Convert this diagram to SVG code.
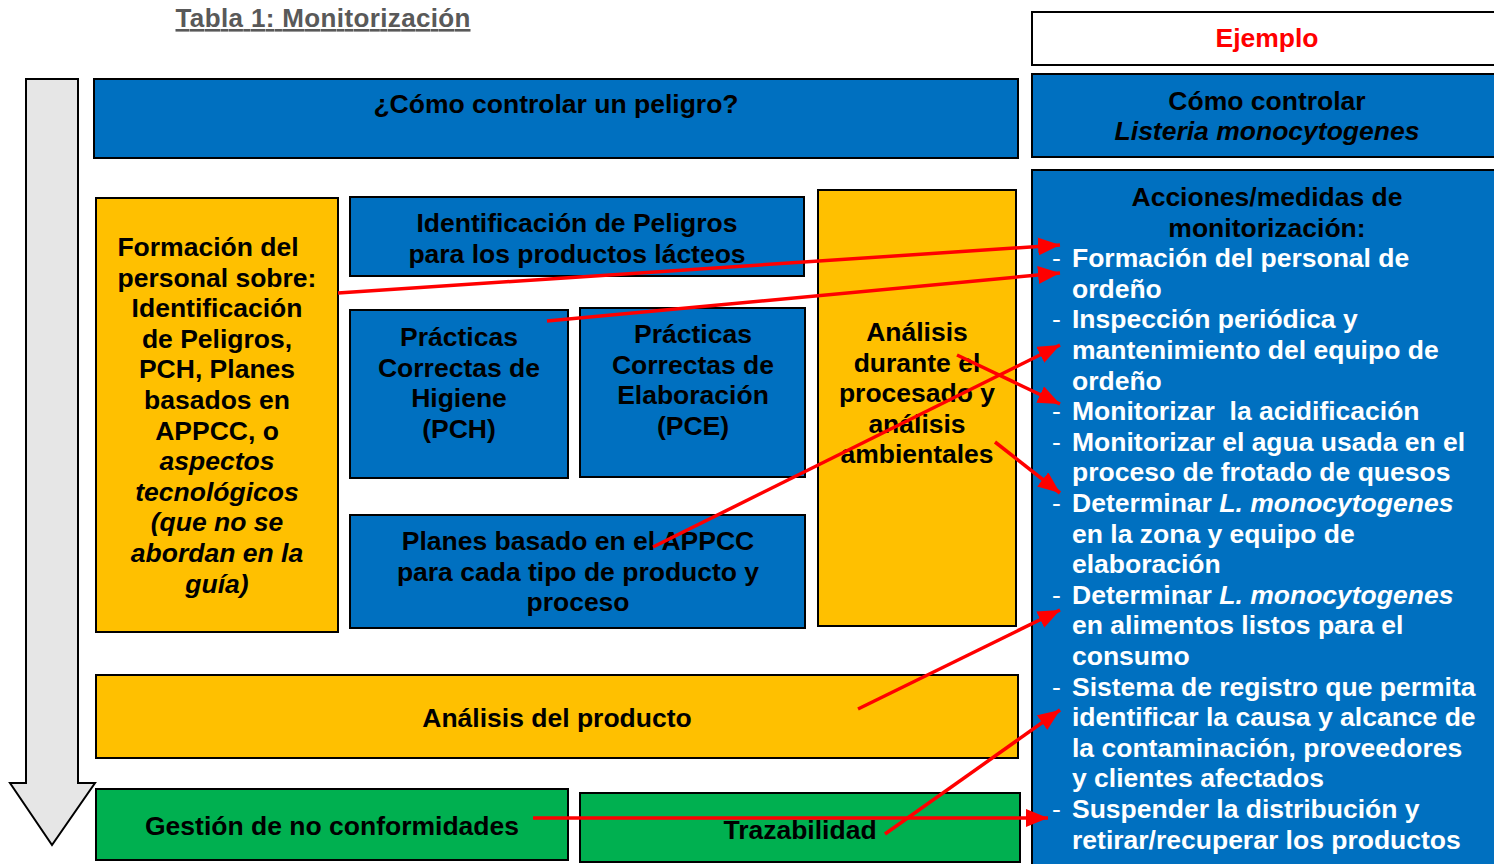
<svg xmlns="http://www.w3.org/2000/svg" width="1494" height="864" viewBox="0 0 1494 864">
<defs>
<style>
.t{font-family:"Liberation Sans",Arial,sans-serif;font-weight:bold;font-size:26.5px;fill:#000;text-anchor:middle}
.w{font-family:"Liberation Sans",Arial,sans-serif;font-weight:bold;font-size:26.5px;fill:#fff}
.d{font-family:"Liberation Sans",Arial,sans-serif;font-weight:normal;font-size:26.5px;fill:#fff}
.i{font-style:italic}
.blue{fill:#0070C0;stroke:#000;stroke-width:2}
.yel{fill:#FFC000;stroke:#000;stroke-width:2}
.grn{fill:#00B050;stroke:#000;stroke-width:2}
.con line{stroke:#FF0000;stroke-width:3.5;marker-end:url(#ah)}
</style>
<marker id="ah" markerUnits="userSpaceOnUse" markerWidth="24" markerHeight="20" refX="22" refY="9" orient="auto">
<path d="M0,0 L22,9 L0,18 Z" fill="#FF0000"/>
</marker>
</defs>
<rect width="1494" height="864" fill="#fff"/>
<text x="323" y="27" font-family="Liberation Sans, Arial, sans-serif" font-weight="bold" font-size="26" fill="#595959" text-anchor="middle" text-decoration="underline" textLength="295">Tabla 1: Monitorización</text>

<g id="flecha-proceso">
<path d="M26,79 L78,79 L78,783 L95,783 L52,845 L10,783 L26,783 Z" fill="#E6E6E6" stroke="#000" stroke-width="2"/>
</g>

<g id="ejemplo">
<rect x="1032" y="12" width="470" height="53" fill="#fff" stroke="#000" stroke-width="2"/>
<text class="t" x="1267" y="47" style="fill:#FF0000">Ejemplo</text>
</g>

<g id="como-controlar-listeria">
<rect class="blue" x="1032" y="74" width="470" height="83"/>
<text class="t" x="1267" y="110">Cómo controlar</text>
<text class="t i" x="1267" y="140">Listeria monocytogenes</text>
</g>

<g id="acciones">
<rect class="blue" x="1032" y="170" width="470" height="700"/>
<text class="t" x="1267" y="206">Acciones/medidas de</text>
<text class="t" x="1267" y="236.6">monitorización:</text>
<g>
<text class="d" x="1052" y="267.2">-</text><text class="w" x="1072" y="267.2">Formación del personal de</text>
<text class="w" x="1072" y="297.8">ordeño</text>
<text class="d" x="1052" y="328.4">-</text><text class="w" x="1072" y="328.4">Inspección periódica y</text>
<text class="w" x="1072" y="359">mantenimiento del equipo de</text>
<text class="w" x="1072" y="389.6">ordeño</text>
<text class="d" x="1052" y="420.2">-</text><text class="w" x="1072" y="420.2" xml:space="preserve">Monitorizar  la acidificación</text>
<text class="d" x="1052" y="450.8">-</text><text class="w" x="1072" y="450.8">Monitorizar el agua usada en el</text>
<text class="w" x="1072" y="481.4">proceso de frotado de quesos</text>
<text class="d" x="1052" y="512">-</text><text class="w" x="1072" y="512">Determinar <tspan class="i">L. monocytogenes</tspan></text>
<text class="w" x="1072" y="542.6">en la zona y equipo de</text>
<text class="w" x="1072" y="573.2">elaboración</text>
<text class="d" x="1052" y="603.8">-</text><text class="w" x="1072" y="603.8">Determinar <tspan class="i">L. monocytogenes</tspan></text>
<text class="w" x="1072" y="634.4">en alimentos listos para el</text>
<text class="w" x="1072" y="665">consumo</text>
<text class="d" x="1052" y="695.6">-</text><text class="w" x="1072" y="695.6">Sistema de registro que permita</text>
<text class="w" x="1072" y="726.2">identificar la causa y alcance de</text>
<text class="w" x="1072" y="756.8">la contaminación, proveedores</text>
<text class="w" x="1072" y="787.4">y clientes afectados</text>
<text class="d" x="1052" y="818">-</text><text class="w" x="1072" y="818">Suspender la distribución y</text>
<text class="w" x="1072" y="848.6">retirar/recuperar los productos</text>
</g>
</g>

<g id="como-controlar-peligro">
<rect class="blue" x="94" y="79" width="924" height="79"/>
<text class="t" x="556" y="113">¿Cómo controlar un peligro?</text>
</g>

<g id="formacion">
<rect class="yel" x="96" y="198" width="242" height="434"/>
<text class="t" x="208" y="256">Formación del</text>
<text class="t" x="217" y="286.6">personal sobre:</text>
<text class="t" x="217" y="317.2">Identificación</text>
<text class="t" x="217" y="347.8">de Peligros,</text>
<text class="t" x="217" y="378.4">PCH, Planes</text>
<text class="t" x="217" y="409">basados en</text>
<text class="t" x="217" y="439.6">APPCC, o</text>
<text class="t i" x="217" y="470.2">aspectos</text>
<text class="t i" x="217" y="500.8">tecnológicos</text>
<text class="t i" x="217" y="531.4">(que no se</text>
<text class="t i" x="217" y="562">abordan en la</text>
<text class="t i" x="217" y="592.6">guía)</text>
</g>

<g id="identificacion-peligros">
<rect class="blue" x="350" y="197" width="454" height="79"/>
<text class="t" x="577" y="232">Identificación de Peligros</text>
<text class="t" x="577" y="262.6">para los productos lácteos</text>
</g>

<g id="pch">
<rect class="blue" x="350" y="310" width="218" height="168"/>
<text class="t" x="459" y="346">Prácticas</text>
<text class="t" x="459" y="376.6">Correctas de</text>
<text class="t" x="459" y="407.2">Higiene</text>
<text class="t" x="459" y="437.8">(PCH)</text>
</g>

<g id="pce">
<rect class="blue" x="580" y="308" width="225" height="169"/>
<text class="t" x="693" y="343">Prácticas</text>
<text class="t" x="693" y="373.6">Correctas de</text>
<text class="t" x="693" y="404.2">Elaboración</text>
<text class="t" x="693" y="434.8">(PCE)</text>
</g>

<g id="planes-appcc">
<rect class="blue" x="350" y="515" width="455" height="113"/>
<text class="t" x="578" y="550">Planes basado en el APPCC</text>
<text class="t" x="578" y="580.6">para cada tipo de producto y</text>
<text class="t" x="578" y="611.2">proceso</text>
</g>

<g id="analisis-procesado">
<rect class="yel" x="818" y="190" width="198" height="436"/>
<text class="t" x="917" y="341">Análisis</text>
<text class="t" x="917" y="371.6">durante el</text>
<text class="t" x="917" y="402.2">procesado y</text>
<text class="t" x="917" y="432.8">análisis</text>
<text class="t" x="917" y="463.4">ambientales</text>
</g>

<g id="analisis-producto">
<rect class="yel" x="96" y="675" width="922" height="83"/>
<text class="t" x="557" y="727">Análisis del producto</text>
</g>

<g id="gestion-no-conformidades">
<rect class="grn" x="96" y="789" width="472" height="71"/>
<text class="t" x="332" y="835">Gestión de no conformidades</text>
</g>

<g id="trazabilidad">
<rect class="grn" x="580" y="793" width="440" height="69"/>
<text class="t" x="800" y="839">Trazabilidad</text>
</g>

<g id="conectores" class="con">
<line x1="338" y1="293" x2="1060" y2="245"/>
<line x1="547" y1="321" x2="1060" y2="273"/>
<line x1="653" y1="547" x2="1060" y2="345"/>
<line x1="957" y1="355" x2="1060" y2="404"/>
<line x1="995" y1="442" x2="1060" y2="493"/>
<line x1="858" y1="709" x2="1060" y2="610"/>
<line x1="885" y1="834" x2="1060" y2="710"/>
<line x1="533" y1="818" x2="1048" y2="818"/>
</g>
</svg>
